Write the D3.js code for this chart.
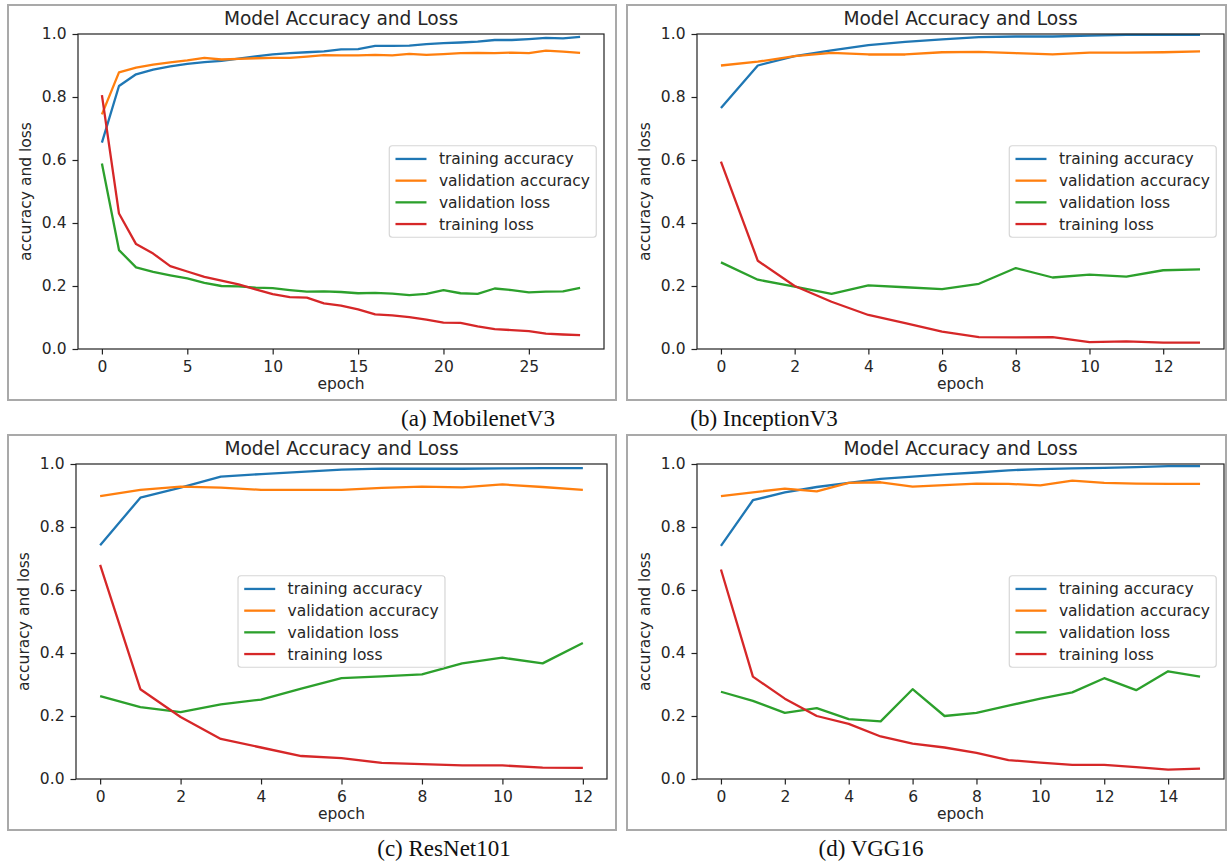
<!DOCTYPE html>
<html>
<head>
<meta charset="utf-8">
<script src="https://cdn.jsdelivr.net/npm/d3@7"></script>
<style>
    body { margin: 0; background: #fff; }
    svg { display: block; font-family: "DejaVu Sans", sans-serif; }
</style>
</head>
<body>
<svg></svg>
<script>
const width = 1227
const height = 867

// Legend order = draw order
const seriesNames = ["training accuracy", "validation accuracy", "validation loss", "training loss"]
const seriesColors = ["#1f77b4", "#ff7f0e", "#2ca02c", "#d62728"]

// Tick labels
const yTicks = [0, 0.2, 0.4, 0.6, 0.8, 1.0]
const xTicksMobilenet = [0, 5, 10, 15, 20, 25]
const xTicksInception = [0, 2, 4, 6, 8, 10, 12]
const xTicksResnet = [0, 2, 4, 6, 8, 10, 12]
const xTicksVgg = [0, 2, 4, 6, 8, 10, 12, 14]

// (a) MobilenetV3, epochs 0..28
const mobilenetTrainAcc = [0.655, 0.835, 0.872, 0.887, 0.897, 0.905, 0.911, 0.915, 0.922, 0.929, 0.935, 0.939, 0.942, 0.945, 0.951, 0.952, 0.962, 0.962, 0.963, 0.968, 0.971, 0.973, 0.976, 0.981, 0.981, 0.984, 0.988, 0.986, 0.991]
const mobilenetValAcc = [0.745, 0.878, 0.893, 0.903, 0.91, 0.916, 0.924, 0.919, 0.921, 0.923, 0.924, 0.924, 0.928, 0.933, 0.932, 0.932, 0.934, 0.932, 0.937, 0.934, 0.936, 0.939, 0.94, 0.939, 0.941, 0.939, 0.947, 0.944, 0.94]
const mobilenetValLoss = [0.589, 0.314, 0.259, 0.245, 0.234, 0.224, 0.21, 0.2, 0.199, 0.195, 0.193, 0.187, 0.182, 0.183, 0.181, 0.177, 0.178, 0.176, 0.171, 0.175, 0.187, 0.177, 0.175, 0.192, 0.187, 0.18, 0.182, 0.183, 0.194]
const mobilenetTrainLoss = [0.806, 0.43, 0.333, 0.303, 0.263, 0.246, 0.229, 0.217, 0.205, 0.189, 0.174, 0.165, 0.163, 0.145, 0.138, 0.126, 0.11, 0.107, 0.101, 0.093, 0.084, 0.083, 0.072, 0.063, 0.06, 0.057, 0.049, 0.046, 0.044]

// (b) InceptionV3, epochs 0..13
const inceptionTrainAcc = [0.765, 0.9, 0.93, 0.948, 0.965, 0.975, 0.983, 0.99, 0.992, 0.992, 0.995, 0.997, 0.997, 0.997]
const inceptionValAcc = [0.9, 0.912, 0.93, 0.94, 0.935, 0.935, 0.942, 0.943, 0.939, 0.935, 0.941, 0.941, 0.942, 0.945]
const inceptionValLoss = [0.275, 0.22, 0.198, 0.175, 0.202, 0.196, 0.19, 0.207, 0.257, 0.227, 0.236, 0.23, 0.25, 0.253]
const inceptionTrainLoss = [0.595, 0.28, 0.2, 0.15, 0.108, 0.082, 0.055, 0.038, 0.037, 0.038, 0.022, 0.024, 0.02, 0.02]

// (c) ResNet101, epochs 0..12
const resnetTrainAcc = [0.742, 0.893, 0.925, 0.96, 0.968, 0.975, 0.982, 0.985, 0.985, 0.985, 0.986, 0.987, 0.987]
const resnetValAcc = [0.898, 0.918, 0.928, 0.925, 0.918, 0.918, 0.918, 0.924, 0.928, 0.926, 0.935, 0.927, 0.918]
const resnetValLoss = [0.263, 0.228, 0.212, 0.237, 0.252, 0.287, 0.32, 0.326, 0.332, 0.367, 0.385, 0.367, 0.432]
const resnetTrainLoss = [0.68, 0.285, 0.197, 0.127, 0.1, 0.073, 0.066, 0.051, 0.047, 0.043, 0.043, 0.036, 0.035]

// (d) VGG16, epochs 0..15
const vggTrainAcc = [0.74, 0.885, 0.91, 0.927, 0.94, 0.953, 0.96, 0.967, 0.973, 0.98, 0.984, 0.986, 0.988, 0.99, 0.993, 0.993]
const vggValAcc = [0.898, 0.91, 0.922, 0.913, 0.94, 0.942, 0.928, 0.933, 0.938, 0.937, 0.932, 0.947, 0.94, 0.938, 0.937, 0.937]
const vggValLoss = [0.277, 0.248, 0.21, 0.225, 0.19, 0.183, 0.285, 0.2, 0.21, 0.233, 0.255, 0.275, 0.32, 0.282, 0.342, 0.325]
const vggTrainLoss = [0.665, 0.325, 0.255, 0.2, 0.175, 0.135, 0.112, 0.1, 0.083, 0.06, 0.052, 0.045, 0.045, 0.038, 0.03, 0.033]

// Panel layout (pixel boxes of the framed figure and of the axes)
const panels = [
    {
        caption: "(a) MobilenetV3", captionX: 478, captionY: 426,
        series: [mobilenetTrainAcc, mobilenetValAcc, mobilenetValLoss, mobilenetTrainLoss],
        xTicks: xTicksMobilenet, legend: "center right",
        frame: { x0: 8, y0: 5, x1: 616, y1: 400 },
        plot: { x0: 78, y0: 34, x1: 604, y1: 349 }
    },
    {
        caption: "(b) InceptionV3", captionX: 764, captionY: 426,
        series: [inceptionTrainAcc, inceptionValAcc, inceptionValLoss, inceptionTrainLoss],
        xTicks: xTicksInception, legend: "center right",
        frame: { x0: 627, y0: 5, x1: 1226, y1: 400 },
        plot: { x0: 697, y0: 34, x1: 1224, y1: 349 }
    },
    {
        caption: "(c) ResNet101", captionX: 444, captionY: 856,
        series: [resnetTrainAcc, resnetValAcc, resnetValLoss, resnetTrainLoss],
        xTicks: xTicksResnet, legend: "center",
        frame: { x0: 8, y0: 435, x1: 616, y1: 830 },
        plot: { x0: 76, y0: 464, x1: 607, y1: 779 }
    },
    {
        caption: "(d) VGG16", captionX: 871, captionY: 856,
        series: [vggTrainAcc, vggValAcc, vggValLoss, vggTrainLoss],
        xTicks: xTicksVgg, legend: "center right",
        frame: { x0: 627, y0: 435, x1: 1226, y1: 830 },
        plot: { x0: 697, y0: 464, x1: 1224, y1: 779 }
    }
]

const svg = d3.select("svg")
    .attr("width", width)
    .attr("height", height)

svg.append("rect")
    .attr("width", width)
    .attr("height", height)
    .attr("fill", "#fff")

const fontSize = 15.5
const textColor = "#262626"

const drawPanel = (p) => {
    const g = svg.append("g")
    const { x0, y0, x1, y1 } = p.plot

    // grey frame round each figure
    g.append("rect")
        .attr("x", p.frame.x0)
        .attr("y", p.frame.y0)
        .attr("width", p.frame.x1 - p.frame.x0)
        .attr("height", p.frame.y1 - p.frame.y0)
        .attr("fill", "none")
        .attr("stroke", "#a9a9a9")
        .attr("stroke-width", 2)

    // Scales (matplotlib style 5% x margin)
    const n = p.series[0].length - 1
    const xScale = d3.scaleLinear()
        .domain([-0.05 * n, 1.05 * n])
        .range([x0, x1])
    const yScale = d3.scaleLinear()
        .domain([0, 1])
        .range([y1, y0])

    const line = d3.line()
        .x((d, i) => xScale(i))
        .y(d => yScale(d))

    p.series.forEach((s, k) => {
        g.append("path")
            .attr("d", line(s))
            .attr("fill", "none")
            .attr("stroke", seriesColors[k])
            .attr("stroke-width", 2.3)
            .attr("stroke-linejoin", "round")
    })

    // Axes
    const yAxis = d3.axisLeft(yScale)
        .tickValues(yTicks)
        .tickFormat(d3.format(".1f"))
        .tickSize(5.5)
        .tickPadding(6)
        .tickSizeOuter(0)
    const xAxis = d3.axisBottom(xScale)
        .tickValues(p.xTicks)
        .tickFormat(d3.format("d"))
        .tickSize(5.5)
        .tickPadding(6)
        .tickSizeOuter(0)

    const yAxisG = g.append("g")
        .attr("transform", `translate(${x0}, 0)`)
        .call(yAxis)
    const xAxisG = g.append("g")
        .attr("transform", `translate(0, ${y1})`)
        .call(xAxis)

    ;[yAxisG, xAxisG].forEach(a => {
        a.select(".domain").remove()
        a.selectAll(".tick line").attr("stroke", "#222").attr("stroke-width", 1.2)
        a.selectAll(".tick text")
            .attr("fill", textColor)
            .attr("font-size", fontSize)
            .attr("font-family", "DejaVu Sans")
    })

    // spines
    g.append("rect")
        .attr("x", x0)
        .attr("y", y0)
        .attr("width", x1 - x0)
        .attr("height", y1 - y0)
        .attr("fill", "none")
        .attr("stroke", "#222")
        .attr("stroke-width", 1.2)

    // Title and axis labels
    g.append("text")
        .text("Model Accuracy and Loss")
        .attr("x", (x0 + x1) / 2)
        .attr("y", y0 - 9)
        .attr("text-anchor", "middle")
        .attr("font-size", 18.6)
        .attr("fill", textColor)

    g.append("text")
        .text("epoch")
        .attr("x", (x0 + x1) / 2)
        .attr("y", y1 + 40)
        .attr("text-anchor", "middle")
        .attr("font-size", fontSize)
        .attr("fill", textColor)

    g.append("text")
        .text("accuracy and loss")
        .attr("transform", `translate(${x0 - 47}, ${(y0 + y1) / 2}) rotate(-90)`)
        .attr("text-anchor", "middle")
        .attr("font-size", fontSize)
        .attr("fill", textColor)

    // Legend
    const pad = 6.2
    const handleLen = 31
    const handlePad = 12.4
    const rowH = 21.7
    const legendG = g.append("g")
    const box = legendG.append("rect")
    const texts = seriesNames.map((name, k) => legendG.append("text")
        .text(name)
        .attr("font-size", fontSize)
        .attr("fill", textColor))
    const textW = d3.max(texts, t => t.node().getComputedTextLength())
    const boxW = pad + handleLen + handlePad + textW + pad
    const boxH = pad * 2 + rowH * 3 + 14
    const bx = p.legend === "center" ? (x0 + x1) / 2 - boxW / 2 : x1 - 7.75 - boxW
    const by = (y0 + y1) / 2 - boxH / 2

    box.attr("x", bx)
        .attr("y", by)
        .attr("width", boxW)
        .attr("height", boxH)
        .attr("rx", 3)
        .attr("fill", "#fff")
        .attr("fill-opacity", 0.8)
        .attr("stroke", "#d6d6d6")
        .attr("stroke-width", 1.2)

    seriesNames.forEach((name, k) => {
        const cy = by + pad + 7 + k * rowH
        legendG.append("line")
            .attr("x1", bx + pad)
            .attr("x2", bx + pad + handleLen)
            .attr("y1", cy)
            .attr("y2", cy)
            .attr("stroke", seriesColors[k])
            .attr("stroke-width", 2.3)
        texts[k]
            .attr("x", bx + pad + handleLen + handlePad)
            .attr("y", cy + 5.5)
    })

    // Caption under the figure
    svg.append("text")
        .text(p.caption)
        .attr("x", p.captionX)
        .attr("y", p.captionY)
        .attr("text-anchor", "middle")
        .attr("font-family", "Liberation Serif, serif")
        .attr("font-size", 23)
        .attr("fill", "#111")
}

panels.forEach(drawPanel)
</script>
</body>
</html>
